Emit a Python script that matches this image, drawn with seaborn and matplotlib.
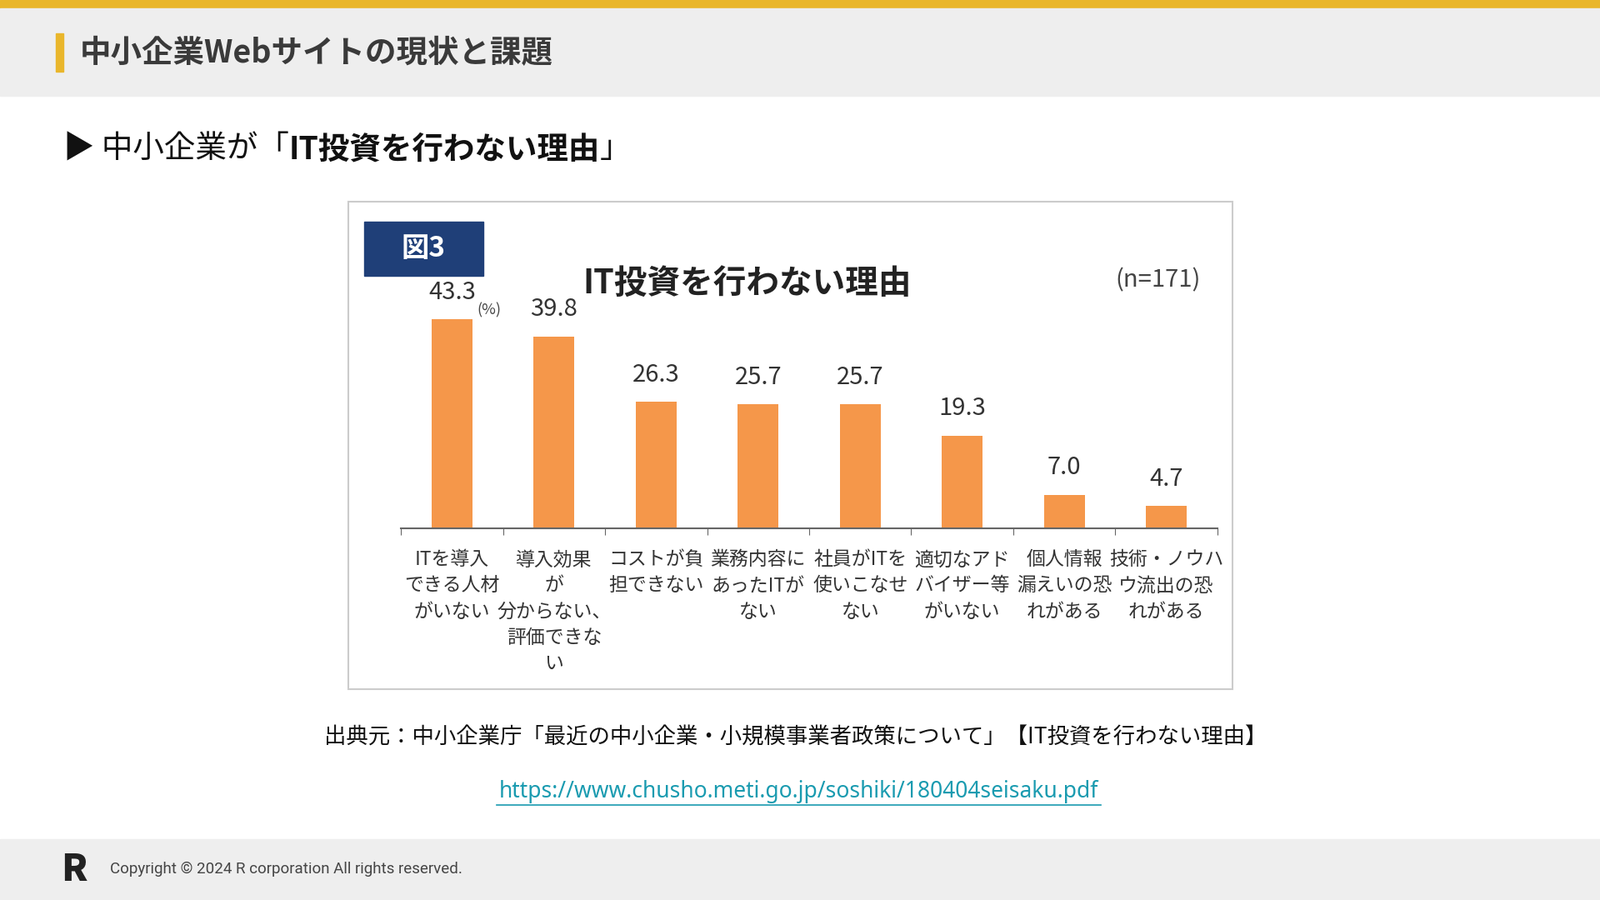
import matplotlib.pyplot as plt
import seaborn as sns
import pandas as pd
from matplotlib.patches import Rectangle

plt.rcParams["font.family"] = "Noto Sans CJK JP"

categories = ["ITを導入\nできる人材\nがいない", "導入効果\nが\n分からない、\n評価できな\nい",
              "コストが負\n担できない", "業務内容に\nあったITが\nない", "社員がITを\n使いこなせ\nない",
              "適切なアド\nバイザー等\nがいない", "個人情報\n漏えいの恐\nれがある", "技術・ノウハ\nウ流出の恐\nれがある"]
values = [43.3, 39.8, 26.3, 25.7, 25.7, 19.3, 7.0, 4.7]
value_labels = ["43.3", "39.8", "26.3", "25.7", "25.7", "19.3", "7.0", "4.7"]

W, H = 1568, 882
fig = plt.figure(figsize=(19.2, 10.8), dpi=100)

def fx(x): return x / W
def fy(y): return 1 - y / H

# page decorations
fig.patches.append(Rectangle((0, fy(8)), 1, 8 / H, transform=fig.transFigure, color="#E9B62B"))
fig.patches.append(Rectangle((0, fy(94)), 1, 86 / H, transform=fig.transFigure, color="#EEEEEE"))
fig.patches.append(Rectangle((fx(55), fy(70)), 7 / W, 37 / H, transform=fig.transFigure, color="#E9B62B"))
fig.text(fx(78), fy(52), "中小企業Webサイトの現状と課題", fontsize=27, fontweight="bold",
         color="#3a3a3a", va="center")
fig.patches.append(Rectangle((0, 0), 1, 60 / H, transform=fig.transFigure, color="#EEEEEE"))
fig.text(fx(60), fy(852), "R", fontsize=32, fontweight="heavy", color="#222222", va="center", style="italic")
fig.text(fx(108), fy(852), "Copyright © 2024 R corporation All rights reserved.", fontsize=13.5,
         color="#444444", va="center", family="Roboto")

# subtitle, pieces laid out one after the other
renderer = fig.canvas.get_renderer()
x = fx(62)
for piece, weight in [("▶ 中小企業が「", "normal"), ("IT投資を行わない理由", "bold"), ("」", "normal")]:
    t = fig.text(x, fy(146), piece, fontsize=27, fontweight=weight, va="center", color="#111111")
    bb = t.get_window_extent(renderer)
    x += bb.width / fig.bbox.width

# chart box
fig.patches.append(Rectangle((fx(341), fy(675)), 867 / W, 477 / H, transform=fig.transFigure,
                             facecolor="white", edgecolor="#cccccc", lw=1.5))
fig.patches.append(Rectangle((fx(357), fy(270)), 117 / W, 53 / H, transform=fig.transFigure,
                             color="#1F3F78"))
fig.text(fx(415), fy(244), "図3", fontsize=24, fontweight="bold", color="white", ha="center", va="center")
fig.text(fx(732), fy(278), "IT投資を行わない理由", fontsize=28.5, fontweight="bold", color="#222222",
         ha="center", va="center")
fig.text(fx(1135), fy(275), "(n=171)", fontsize=21, color="#444444", ha="center", va="center")
fig.text(fx(479), fy(304), "(%)", fontsize=13, color="#444444", ha="center", va="center")

df = pd.DataFrame({"cat": categories, "val": values})
ax = fig.add_axes([fx(393), fy(518), 800 / W, 236.5 / H])
ax.set_zorder(3)
sns.barplot(data=df, x="cat", y="val", color="#F5974A", width=0.4, saturation=1, ax=ax)
ax.set_xlim(-0.5, 7.5)
ax.set_ylim(0, 50)
for i, (v, lab) in enumerate(zip(values, value_labels)):
    ax.text(i, v + 3.0, lab, ha="center", va="bottom", fontsize=21, color="#333333")
ax.set_xticks([x - 0.5 for x in range(9)], minor=False)
ax.set_xticklabels([])
ax.tick_params(axis="x", length=6, color="#666666", direction="out")
for i, c in enumerate(categories):
    ax.text(i, -4.5, c, ha="center", va="top", fontsize=16.5, color="#333333", linespacing=1.45,
            clip_on=False)
ax.set_yticks([])
ax.set_xlabel("")
ax.set_ylabel("")
sns.despine(ax=ax, left=True)
ax.spines["bottom"].set_color("#666666")
ax.spines["bottom"].set_linewidth(1.5)
ax.patch.set_alpha(0)

fig.text(fx(780), fy(723), "出典元：中小企業庁「最近の中小企業・小規模事業者政策について」【IT投資を行わない理由】",
         fontsize=19, ha="center", va="center", color="#111111")
fig.text(fx(783), fy(776), "https://www.chusho.meti.go.jp/soshiki/180404seisaku.pdf", fontsize=19,
         ha="center", va="center", color="#1A9BB0", family="Noto Sans")
fig.add_artist(plt.Line2D([fx(487), fx(1079)], [fy(789), fy(789)], color="#1A9BB0", lw=1.2))

fig.savefig("out.png", dpi=100)
